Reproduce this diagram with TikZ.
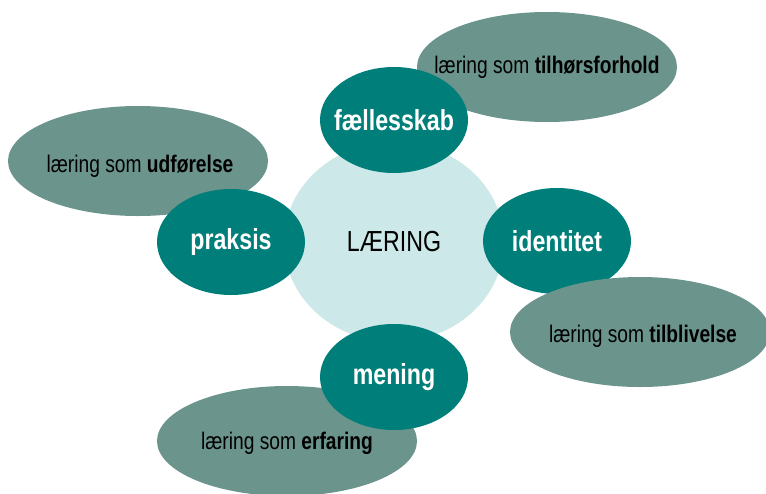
\documentclass[tikz,border=0pt]{standalone}
\usepackage{fontspec}
\setmainfont{Liberation Sans}[FakeStretch=0.8]
\usetikzlibrary{shapes.geometric}
\definecolor{tealdark}{RGB}{0,127,122}
\definecolor{tealgrey}{RGB}{107,148,140}
\definecolor{teallight}{RGB}{204,232,232}
\begin{document}
\begin{tikzpicture}[x=1pt, y=-1pt]
\tikzset{ inner sep=0pt, outer sep=0pt,
  blob/.style={ellipse, fill=tealdark, minimum width=148pt, minimum height=106pt},
  greyblob/.style={ellipse, fill=tealgrey, minimum width=260pt, minimum height=110pt},
  blobtext/.style={text=white, font=\fontsize{29}{32}\selectfont\bfseries},
  greytext/.style={text=black, font=\fontsize{24}{28}\selectfont},
}
\useasboundingbox (0,0) rectangle (766,493);

%%% Midte

% LAERING
\node [ellipse, fill=teallight, minimum width=220pt, minimum height=200pt] (laering) at (394,242) { };
\node [text=black, font=\fontsize{29}{32}\selectfont] (laeringtxt) at (laering) {LÆRING};

%%% Grå ellipser

% tilhørsforhold
\node [greyblob] (tilhoer) at (547,67) { };
\node [greytext] (tilhoertxt) at (tilhoer) {læring som \textbf{tilhørsforhold}};

% udførelse
\node [greyblob] (udfoer) at (138,161) { };
\node [greytext] (udfoertxt) at (140,166) {læring som \textbf{udførelse}};

% erfaring
\node [greyblob] (erfar) at (287,441) { };
\node [greytext] (erfartxt) at (287,443) {læring som \textbf{erfaring}};

%%% Blobs

\node [blob] (faelles) at (394,120) { };
\node [blobtext] (faellestxt) at (faelles) {fællesskab};

\node [blob] (praksis) at (231,242) { };
\node [blobtext] (praksistxt) at (praksis) {praksis};

\node [blob] (mening) at (394,377) { };
\node [blobtext] (meningtxt) at (mening) {mening};

\node [blob] (ident) at (557,241) { };
\node [blobtext] (identtxt) at (ident) {identitet};

% tilblivelse (ligger over identitet)
\node [greyblob] (tilbliv) at (640,332) { };
\node [greytext] (tilblivtxt) at (643,336) {læring som \textbf{tilblivelse}};

\end{tikzpicture}
\end{document}
